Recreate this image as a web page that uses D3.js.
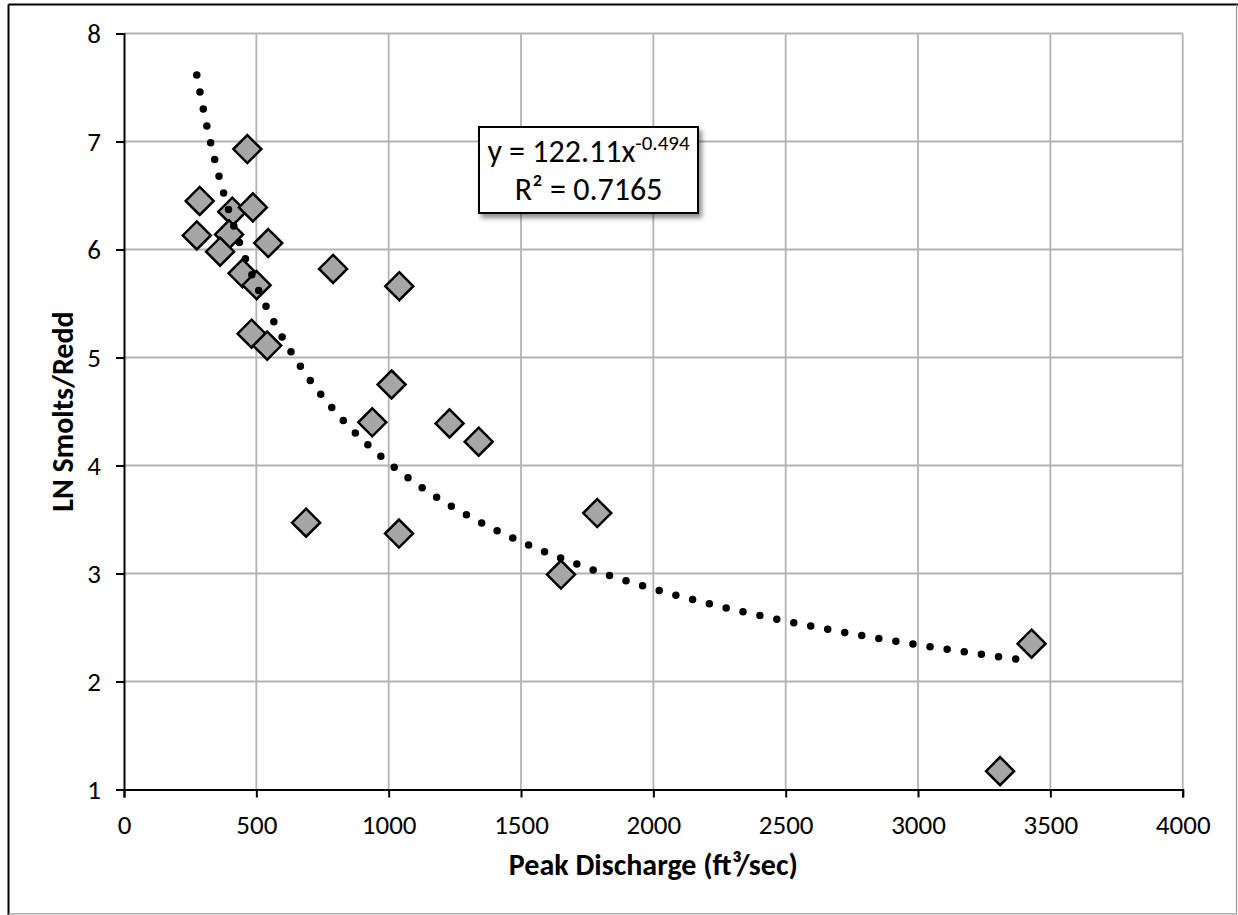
<!DOCTYPE html>
<html>
<head>
<meta charset="utf-8">
<script src="https://cdn.jsdelivr.net/npm/d3@7"></script>
<style>
  html, body { margin: 0; padding: 0; background: #fff; }
  svg { display: block; }
  text { font-family: Carlito, Lato, "Open Sans", sans-serif; fill: #000; }
</style>
</head>
<body>
<svg id="chart" width="1238" height="915"></svg>
<script>
// ---- data ----
const peakDischarge = [466, 286, 409, 487, 275, 397, 363, 545, 448, 501, 790, 1040,
                       482, 541, 1011, 938, 1230, 1340, 688, 1039, 1788, 1651, 3429, 3310];
const lnSmoltsPerRedd = [6.93, 6.45, 6.35, 6.39, 6.13, 6.14, 5.98, 6.06, 5.78, 5.67, 5.82, 5.66,
                         5.22, 5.11, 4.75, 4.40, 4.39, 4.22, 3.47, 3.37, 3.56, 2.99, 2.35, 1.17];
const xTicks = [0, 500, 1000, 1500, 2000, 2500, 3000, 3500, 4000];
const yTicks = [1, 2, 3, 4, 5, 6, 7, 8];
const trendCoef = 122.11;
const trendExp = -0.494;
const rSquared = "0.7165";
const xTitle = "Peak Discharge (ft³/sec)";
const yTitle = "LN Smolts/Redd";

// ---- layout ----
const svg = d3.select("#chart");
const plot = { left: 124, right: 1182.7, top: 33.5, bottom: 789.5 };

const x = d3.scaleLinear().domain([0, 4000]).range([plot.left, plot.right]);
const y = d3.scaleLinear().domain([1, 8]).range([plot.bottom, plot.top]);

// outer frame
svg.append("line").attr("x1", 8.5).attr("x2", 8.5).attr("y1", 4.5).attr("y2", 915).attr("stroke", "#000").attr("stroke-width", 2);
svg.append("line").attr("x1", 8.5).attr("x2", 1238).attr("y1", 4.5).attr("y2", 4.5).attr("stroke", "#000").attr("stroke-width", 2);
svg.append("line").attr("x1", 1236.5).attr("x2", 1236.5).attr("y1", 4.5).attr("y2", 914).attr("stroke", "#999").attr("stroke-width", 1.2);
svg.append("line").attr("x1", 8.5).attr("x2", 1237).attr("y1", 913.8).attr("y2", 913.8).attr("stroke", "#999").attr("stroke-width", 1.2);

// gridlines
const grid = svg.append("g");
grid.selectAll("line.v").data(xTicks.slice(1)).join("line")
  .attr("x1", d => x(d)).attr("x2", d => x(d))
  .attr("y1", plot.top).attr("y2", plot.bottom)
  .attr("stroke", "#b3b3b3").attr("stroke-width", 1.8);
grid.selectAll("line.h").data(yTicks.slice(1)).join("line")
  .attr("x1", plot.left).attr("x2", plot.right)
  .attr("y1", d => y(d)).attr("y2", d => y(d))
  .attr("stroke", "#b3b3b3").attr("stroke-width", 1.8);

// axes
const xAxis = d3.axisBottom(x).tickValues(xTicks).tickSize(8).tickPadding(10).tickFormat(d3.format("d"));
const yAxis = d3.axisLeft(y).tickValues(yTicks).tickSize(8).tickPadding(15).tickFormat(d3.format("d"));

const gx = svg.append("g").attr("transform", `translate(0,${plot.bottom})`).call(xAxis);
const gy = svg.append("g").attr("transform", `translate(${plot.left},0)`).call(yAxis);
[gx, gy].forEach(g => {
  g.attr("font-size", null).attr("font-family", null);
  g.select(".domain").attr("stroke", "#000").attr("stroke-width", 2);
  g.selectAll(".tick line").attr("stroke", "#000").attr("stroke-width", 2);
  g.selectAll(".tick text").style("font-size", "27px").attr("fill", "#000");
});
gx.selectAll(".tick text").attr("dy", null).attr("y", 44);
gy.selectAll(".tick text").attr("dy", "0.35em");

// axis titles
svg.append("text").attr("x", (plot.left + plot.right) / 2).attr("y", 875)
  .attr("text-anchor", "middle").style("font-size", "30px").attr("font-weight", "bold").text(xTitle);
svg.append("text").attr("transform", `translate(73,${(plot.top + plot.bottom) / 2}) rotate(-90)`)
  .attr("text-anchor", "middle").style("font-size", "30px").attr("font-weight", "bold").text(yTitle);

// markers
const pts = peakDischarge.map((d, i) => ({ x: d, y: lnSmoltsPerRedd[i] }));
svg.append("g").selectAll("path").data(pts).join("path")
  .attr("transform", d => `translate(${x(d.x)},${y(d.y)})`)
  .attr("d", "M0,-14L14,0L0,14L-14,0Z")
  .attr("fill", "#a6a6a6").attr("stroke", "#000").attr("stroke-width", 2.5)
  .attr("stroke-linejoin", "miter");

// power trendline (from the equation shown on the chart)
const xMin = d3.min(peakDischarge), xMax = d3.max(peakDischarge);
const trendXs = d3.range(0, 401).map(i => xMin + (xMax - xMin) * i / 400);
const line = d3.line().x(d => x(d)).y(d => y(trendCoef * Math.pow(d, trendExp)));
svg.append("path").datum(trendXs).attr("d", line)
  .attr("fill", "none").attr("stroke", "#000").attr("stroke-width", 7.5)
  .attr("stroke-linecap", "round").attr("stroke-dasharray", "0 17.3");

// equation box
const defs = svg.append("defs");
const f = defs.append("filter").attr("id", "shadow").attr("x", "-10%").attr("y", "-10%").attr("width", "130%").attr("height", "140%");
f.append("feGaussianBlur").attr("in", "SourceAlpha").attr("stdDeviation", 2.5);
f.append("feOffset").attr("dx", 3).attr("dy", 4).attr("result", "ob");
f.append("feComponentTransfer").append("feFuncA").attr("type", "linear").attr("slope", 0.45);
const fm = f.append("feMerge");
fm.append("feMergeNode");
fm.append("feMergeNode").attr("in", "SourceGraphic");

const bx = 479, by = 127, bw = 219, bh = 86;
svg.append("rect").attr("x", bx).attr("y", by).attr("width", bw).attr("height", bh)
  .attr("fill", "#fff").attr("stroke", "#000").attr("stroke-width", 2).attr("filter", "url(#shadow)");
const eq = svg.append("text").attr("x", bx + bw / 2).attr("y", 161.7).attr("text-anchor", "middle").style("font-size", "32px");
eq.append("tspan").text(`y = ${trendCoef}x`);
eq.append("tspan").style("font-size", "21px").attr("dy", -12).text(`${trendExp}`);
svg.append("text").attr("x", bx + bw / 2).attr("y", 200).attr("text-anchor", "middle").style("font-size", "32px")
  .text(`R² = ${rSquared}`);
</script>
</body>
</html>
